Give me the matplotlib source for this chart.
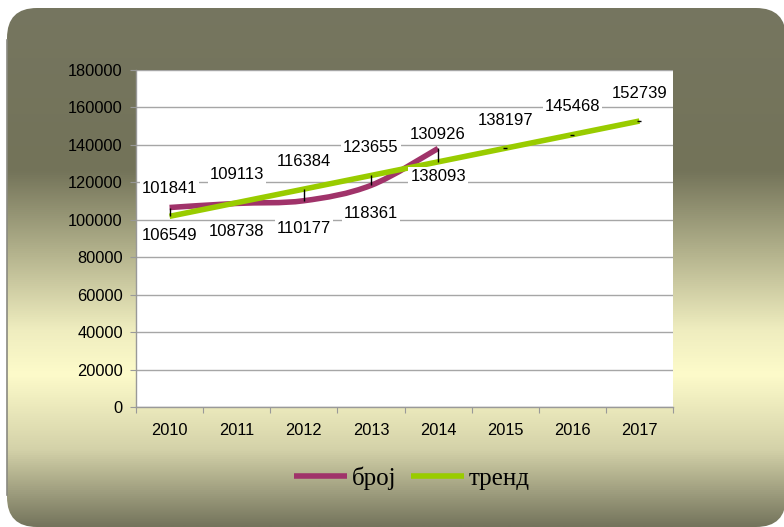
import numpy as np
import matplotlib.pyplot as plt
from matplotlib.patches import FancyBboxPatch, PathPatch
from matplotlib.path import Path
from matplotlib.lines import Line2D
from matplotlib.colors import LinearSegmentedColormap

years = ['2010', '2011', '2012', '2013', '2014', '2015', '2016', '2017']
broj = [106549, 108738, 110177, 118361, 138093]
trend = [101841, 109113, 116384, 123655, 130926, 138197, 145468, 152739]

purple = '#a0336a'
green = '#99cc00'
W, H = 784, 527

fig = plt.figure(figsize=(W / 100, H / 100), dpi=100)
fig.patch.set_facecolor('white')

# background panel with vertical gradient
bg = fig.add_axes([0, 0, 1, 1], zorder=-5)
bg.set_xlim(0, W)
bg.set_ylim(H, 0)
bg.axis('off')
stops = [(0.0, '#767660'), (170 / H, '#737359'), (255 / H, '#b5b48e'),
         (330 / H, '#efedbf'), (375 / H, '#fdfbca'), (450 / H, '#d4d2a9'),
         (1.0, '#74745c')]
cmap = LinearSegmentedColormap.from_list('bg', stops)
grad = np.linspace(0, 1, 512).reshape(-1, 1)
im = bg.imshow(grad, cmap=cmap, aspect='auto', extent=(0, W, H, 0),
               interpolation='bilinear')
box = FancyBboxPatch((7, 8), 779, 519, boxstyle='round,pad=0,rounding_size=30',
                     facecolor='none', edgecolor='none', clip_on=False)
bg.add_patch(box)
im.set_clip_path(box)
bg.plot([7, 7], [40, 495], color='#8a8a80', lw=1.2)

ax = fig.add_axes([136 / W, 1 - 407 / H, (673 - 136) / W, (407 - 70) / H])
ax.set_facecolor('white')
x = np.arange(len(years))
xb = np.arange(len(broj))

# smoothed line for broj (cubic bezier through the points)
P = np.column_stack([xb, broj]).astype(float)
Pe = np.vstack([P[0], P, P[-1]])
verts = [tuple(P[0])]
codes = [Path.MOVETO]
for i in range(len(P) - 1):
    p0, p1, p2, p3 = Pe[i], Pe[i + 1], Pe[i + 2], Pe[i + 3]
    c1 = p1 + (p2 - p0) / 6
    c2 = p2 - (p3 - p1) / 6
    verts += [tuple(c1), tuple(c2), tuple(p2)]
    codes += [Path.CURVE4] * 3
ax.add_patch(PathPatch(Path(verts, codes), facecolor='none', edgecolor=purple,
                       lw=4, capstyle='butt', zorder=3))

ax.plot(x, trend, color=green, lw=4, solid_capstyle='butt', zorder=4)

# high-low lines
ax.vlines(xb, broj, trend[:len(broj)], color='black', lw=1, zorder=5)
ax.plot(x[len(broj):], trend[len(broj):], ls='none', marker='_', ms=3,
        mew=1, color='black', zorder=5)

bb = dict(facecolor='white', edgecolor='none', pad=1.5)
for xi, v in zip(x, trend):
    ax.annotate(str(v), (xi, v), xytext=(0, 20), textcoords='offset points',
                ha='center', va='center', fontsize=12, family='Liberation Sans',
                bbox=bb, zorder=6)
for xi, v in zip(xb, broj):
    ax.annotate(str(v), (xi, v), xytext=(0, -20), textcoords='offset points',
                ha='center', va='center', fontsize=12, family='Liberation Sans',
                bbox=bb, zorder=6)

ax.set_xlim(-0.5, len(years) - 0.5)
ax.set_ylim(0, 180000)
ax.set_yticks(np.arange(0, 180001, 20000))
ax.set_xticks(np.arange(-0.5, len(years), 1))
ax.set_xticklabels([])
ax.set_xticks(x, minor=True)
ax.set_xticklabels(years, minor=True, fontsize=11.8, family='Liberation Sans')
ax.tick_params(axis='x', which='major', length=4.5, color='#999999', direction='out')
ax.tick_params(axis='x', which='minor', length=0, pad=11.5)
ax.tick_params(axis='y', length=4.5, color='#999999', pad=5)
for lab in ax.get_yticklabels():
    lab.set_fontsize(11.8)
    lab.set_family('Liberation Sans')
ax.grid(axis='y', color='#a6a6a6', lw=1)
ax.set_axisbelow(True)
for s in ['top', 'right']:
    ax.spines[s].set_visible(False)
for s in ['left', 'bottom']:
    ax.spines[s].set_color('#999999')
    ax.spines[s].set_linewidth(1)

handles = [Line2D([], [], color=purple, lw=4, solid_capstyle='butt'),
           Line2D([], [], color=green, lw=4, solid_capstyle='butt')]
fig.legend(handles, ['број', 'тренд'], loc='center', bbox_to_anchor=(412 / W, 1 - 478 / H),
           ncol=2, frameon=False, prop={'family': 'Liberation Serif', 'size': 18},
           handlelength=2.1, handletextpad=0.2, columnspacing=0.6)

fig.savefig('out.png', dpi=100)
